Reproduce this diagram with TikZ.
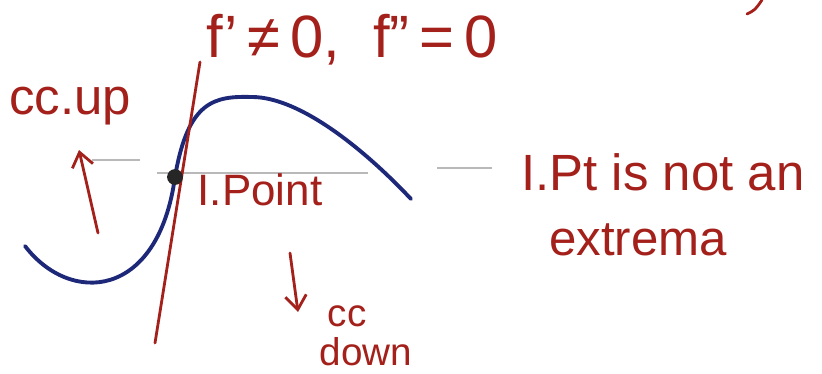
\documentclass[tikz,border=0pt]{standalone}
\usepackage{fontspec}
\setmainfont{Liberation Sans}
\usetikzlibrary{arrows.meta}
\definecolor{ink}{HTML}{A3201B}
\definecolor{pen}{HTML}{1E2878}
\tikzset{
  lbl/.style={text=ink, inner sep=0pt, font=#1},
  redline/.style={draw=ink, line width=1.6pt, line cap=round},
  redarrow/.style={draw=ink, line width=1.6pt, line cap=round, -{Straight Barb[length=8pt,width=12pt,line width=1.6pt]}},
  greyline/.style={draw=gray!55, line width=0.8pt},
  bluecurve/.style={draw=pen, line width=2.2pt, line cap=round, line join=round}
}
\begin{document}
\begin{tikzpicture}[x=0.02cm, y=-0.02cm]
\useasboundingbox (0,0) rectangle (822,373);
% faint grey lines
\coordinate (g1a) at (92,160); \coordinate (g1b) at (140,160);
\coordinate (g2a) at (157,173); \coordinate (g2b) at (368,173);
\coordinate (g3a) at (437,168); \coordinate (g3b) at (492,168);
\draw[greyline] (g1a) -- (g1b);
\draw[greyline] (g2a) -- (g2b);
\draw[greyline] (g3a) -- (g3b);
% blue curve
\coordinate (cs) at (25,246);
\coordinate (ipc) at (175,177);
\coordinate (mx) at (252,97);
\coordinate (ce) at (411,199);
\draw[bluecurve] (cs) .. controls (70,305) and (158,300) .. (ipc)
  .. controls (188,100) and (215,96) .. (mx)
  .. controls (300,97) and (365,150) .. (ce);
% tangent line
\coordinate (ta) at (200,62);
\coordinate (tb) at (155,343);
\draw[redline] (ta) -- (tb);
% inflection point dot
\node[circle, fill=black!85, inner sep=0pt, minimum size=9pt] (ip) at (ipc) {};
% arrows
\coordinate (ua) at (98,233); \coordinate (ub) at (79,150);
\draw[redarrow] (ua) -- (ub);
\coordinate (da) at (290,253); \coordinate (db) at (298,312);
\draw[redarrow] (da) -- (db);
% fragment at top right
\coordinate (fa) at (747,14); \coordinate (fb) at (762,0);
\draw[redline] (fa) .. controls (755,10) .. (fb);
% labels
\node[lbl={\fontsize{34}{36}\selectfont}] (deriv) at (352,40) {f'\,≠\,0,\; f"\,=\,0};
\node[lbl={\fontsize{29}{31}\selectfont}] (ccup) at (70,106) {cc.up};
\node[lbl={\fontsize{25}{27}\selectfont}] (ipt) at (260,190) {I.Point};
\node[lbl={\fontsize{29}{31}\selectfont}] (notan) at (663,172) {I.Pt is not an};
\node[lbl={\fontsize{28}{30}\selectfont}] (ext) at (638,240) {extrema};
\node[lbl={\fontsize{22}{24}\selectfont}] (cc) at (347,316) {cc};
\node[lbl={\fontsize{22}{24}\selectfont}] (down) at (366,352) {down};
\end{tikzpicture}
\end{document}
